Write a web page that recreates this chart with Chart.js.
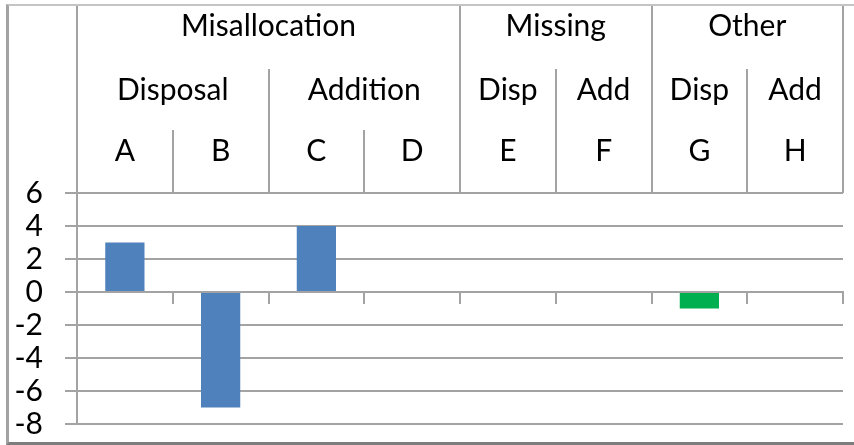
<!DOCTYPE html>
<html>
<head>
<meta charset="utf-8">
<script src="https://cdn.jsdelivr.net/npm/chart.js@4/dist/chart.umd.min.js"></script>
<style>
  html, body { margin: 0; padding: 0; background: #ffffff; }
  #wrap { position: relative; width: 854px; height: 445px; overflow: hidden; }
  #frame {
    position: absolute; left: 6px; top: 4px; width: 900px; height: 436px;
    border-top: 2px solid #c4c4c4; border-left: 3px solid #a2a2a2; border-bottom: 3px solid #7d7d7d;
    pointer-events: none;
  }
  canvas { position: absolute; left: 0; top: 0; }
</style>
</head>
<body>
<div id="wrap">
  <canvas id="chart" width="854" height="445"></canvas>
  <div id="frame"></div>
</div>
<script>
// Leaf categories and their values
const categories = ['A', 'B', 'C', 'D', 'E', 'F', 'G', 'H'];
const values = [3, -7, 4, null, null, null, -1, null];
const barColors = ['#4F81BD', '#4F81BD', '#4F81BD', '#4F81BD', '#4F81BD', '#4F81BD', '#00B050', '#4F81BD'];

// Middle header level: labels and how many leaf categories each spans
const subGroups = ['Disposal', 'Addition', 'Disp', 'Add', 'Disp', 'Add'];
const subSpans = [2, 2, 1, 1, 1, 1];

// Top header level
const topGroups = ['Misallocation', 'Missing', 'Other'];
const topSpans = [4, 2, 2];

// Value axis range
const yMin = -8;
const yMax = 6;
const yStep = 2;

const GRID = '#a3a3a3';
const FONT = { family: 'Lato', size: 30, lineHeight: 1 };
const LABEL_DROP = 21;   // distance from a header row's top to its label centre

// Tick list for one header row: separators on group edges, labels on group centres
function headerTicks(labels, spans) {
  const list = [{ value: 0, label: '' }];
  let pos = 0;
  labels.forEach((lab, i) => {
    list.push({ value: pos + spans[i] / 2, label: lab });
    pos += spans[i];
    list.push({ value: pos, label: '' });
  });
  return list;
}

function headerAxis(labels, spans, weight, rowHeight) {
  const list = headerTicks(labels, spans);
  const lh = FONT.size * FONT.lineHeight;
  return {
    type: 'linear',
    position: 'top',
    weight: weight,
    min: 0,
    max: categories.length,
    offset: false,
    border: { display: false },
    grid: {
      offset: false,
      drawOnChartArea: false,
      drawTicks: true,
      tickLength: rowHeight,
      lineWidth: 2,
      tickWidth: 2,
      color: GRID,
      tickColor: (ctx) => (list[ctx.index] && list[ctx.index].label) ? 'rgba(0,0,0,0)' : GRID
    },
    ticks: {
      autoSkip: false,
      maxRotation: 0,
      minRotation: 0,
      color: '#000000',
      font: FONT,
      padding: -(LABEL_DROP + lh / 2),
      callback: (value, index) => list[index] ? list[index].label : ''
    },
    afterBuildTicks: (scale) => { scale.ticks = list.map(t => ({ value: t.value })); },
    afterFit: (scale) => { scale.height = rowHeight; }
  };
}

const leafSpans = categories.map(() => 1);

new Chart(document.getElementById('chart'), {
  type: 'bar',
  data: {
    labels: categories,
    datasets: [{
      data: values,
      backgroundColor: barColors,
      borderWidth: 0,
      barPercentage: 0.41,
      categoryPercentage: 1.0
    }]
  },
  options: {
    responsive: false,
    animation: false,
    layout: { padding: { top: 5, left: 0, right: 11, bottom: 21 } },
    plugins: { legend: { display: false }, tooltip: { enabled: false } },
    scales: {
      x: {
        type: 'category',
        position: { y: 0 },
        offset: true,
        grid: {
          offset: true,
          drawOnChartArea: false,
          drawTicks: true,
          tickLength: 11,
          lineWidth: 2,
          color: GRID
        },
        border: { display: true, color: GRID, width: 2 },
        ticks: { display: false }
      },
      leaf: headerAxis(categories, leafSpans, 1, 63),
      mid: headerAxis(subGroups, subSpans, 2, 61),
      top: headerAxis(topGroups, topSpans, 3, 64),
      y: {
        min: yMin,
        max: yMax,
        position: 'left',
        border: { display: true, color: GRID, width: 2 },
        grid: { color: GRID, lineWidth: 2, tickLength: 12, drawTicks: true },
        ticks: {
          stepSize: yStep,
          autoSkip: false,
          color: '#000000',
          font: FONT,
          padding: 22
        },
        afterFit: (scale) => {
          scale.width = 77;
          scale.paddingTop = 0;
          scale.paddingBottom = 0;
        }
      }
    }
  }
});
</script>
</body>
</html>
